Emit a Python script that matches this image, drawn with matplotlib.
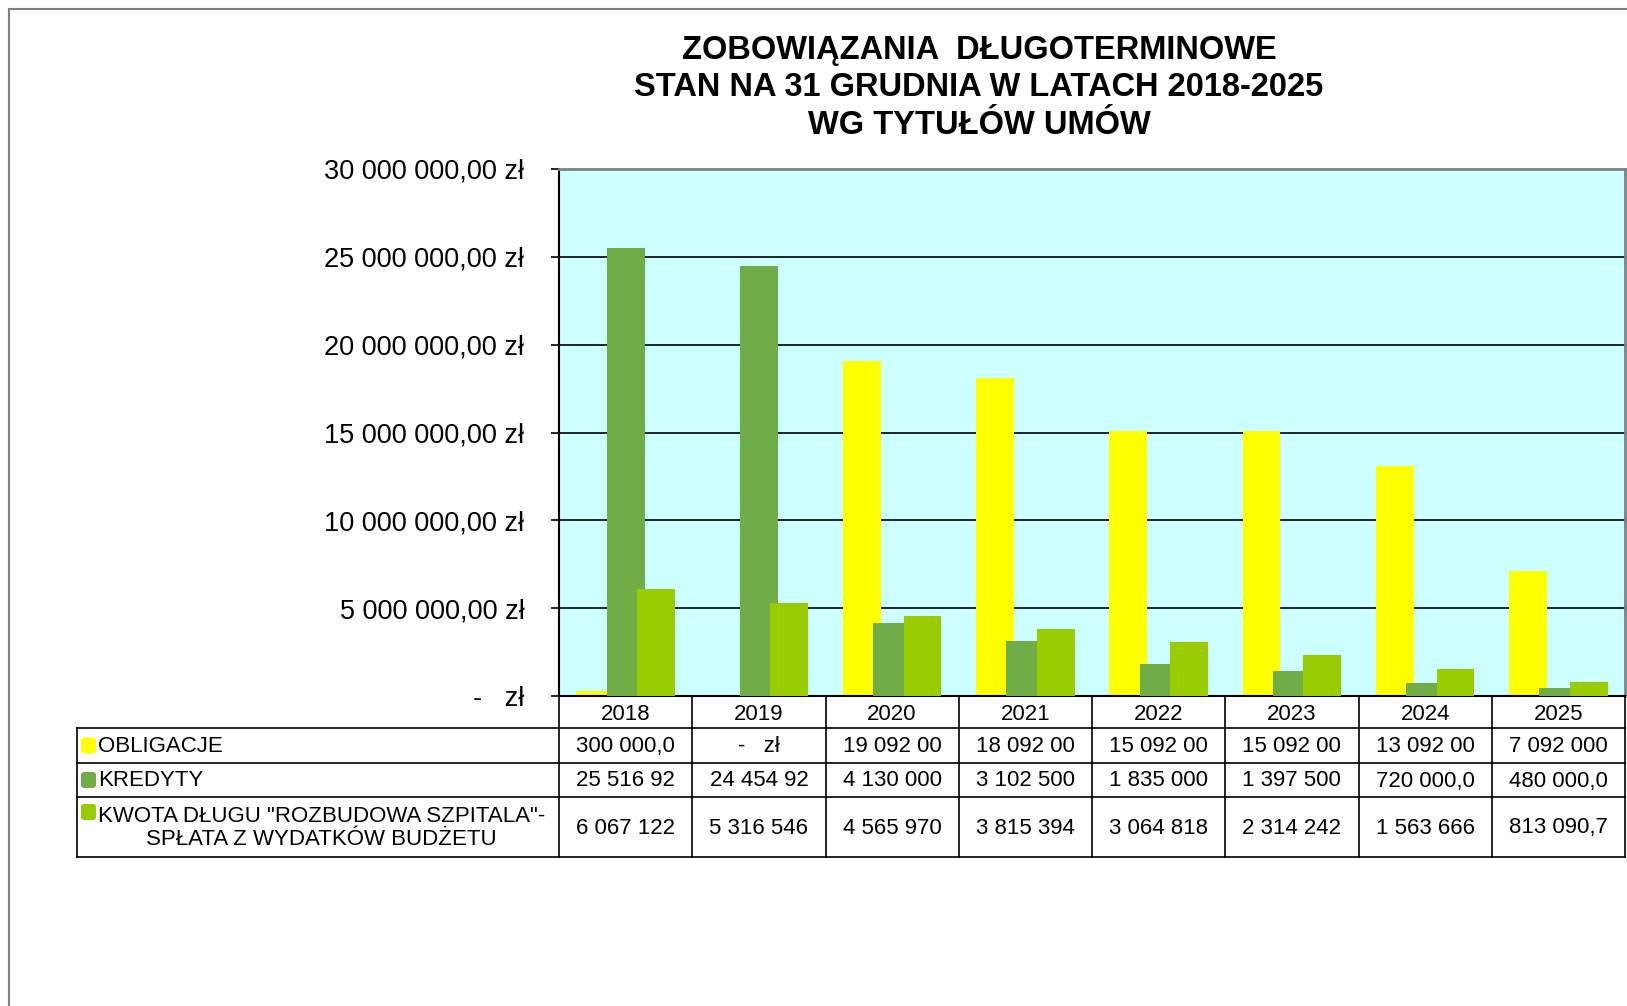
import numpy as np
import matplotlib
matplotlib.use('Agg')
import matplotlib.pyplot as plt
import matplotlib.transforms as mtransforms
from matplotlib.lines import Line2D
from matplotlib.patches import FancyBboxPatch

plt.rcParams['font.family'] = ['Liberation Sans', 'DejaVu Sans']

years = ['2018', '2019', '2020', '2021', '2022', '2023', '2024', '2025']
obligacje = [300000, 0, 19092000, 18092000, 15092000, 15092000, 13092000, 7092000]
kredyty = [25516920, 24454920, 4130000, 3102500, 1835000, 1397500, 720000, 480000]
szpital = [6067122, 5316546, 4565970, 3815394, 3064818, 2314242, 1563666, 813090.7]
series_names = ['OBLIGACJE', 'KREDYTY',
                'KWOTA DŁUGU "ROZBUDOWA SZPITALA"-\nSPŁATA Z WYDATKÓW BUDŻETU']
colors = ['#FFFF00', '#70AD47', '#99CC00']
y_ticks = [0, 5e6, 10e6, 15e6, 20e6, 25e6, 30e6]
title_lines = ['ZOBOWIĄZANIA  DŁUGOTERMINOWE',
               'STAN NA 31 GRUDNIA W LATACH 2018-2025',
               'WG TYTUŁÓW UMÓW']

W, H = 1627, 1006


def zl(v):
    # Excel accounting style: "25 000 000,00 zł", zero as "-   zł"
    if v == 0:
        return '-   zł'
    s = f'{v:,.2f}'.replace(',', ' ').replace('.', ',')
    return s + ' zł'


fig = plt.figure(figsize=(W / 100, H / 100), dpi=100)
# pixel coords measured from the top-left corner
px = mtransforms.Affine2D().scale(1 / 100, -1 / 100).translate(0, H / 100) + fig.dpi_scale_trans

# plot area
L, R, T, B = 559, 1625, 169, 696
ax = fig.add_axes([L / W, 1 - B / H, (R - L) / W, (B - T) / H])
ax.set_facecolor('#CCFFFF')

x = np.arange(len(years))
bw, step = 0.285, 0.228
for i, (vals, c) in enumerate(zip([obligacje, kredyty, szpital], colors)):
    ax.bar(x + (i - 1) * step, vals, width=bw, color=c, linewidth=0, zorder=2 + i)

ax.set_xlim(-0.5, len(years) - 0.5)
ax.set_ylim(0, 30e6)
ax.set_yticks(y_ticks)
ax.set_yticklabels([zl(v) for v in y_ticks], fontsize=19.5)
ax.set_xticks([])
ax.tick_params(axis='y', direction='out', length=6, width=1.2, pad=19)
ax.grid(axis='y', color='black', linewidth=1.2)
ax.set_axisbelow(True)
for s in ['left', 'bottom']:
    ax.spines[s].set_color('black')
    ax.spines[s].set_linewidth(1.5)
for s in ['top', 'right']:
    ax.spines[s].set_color('#808080')
    ax.spines[s].set_linewidth(2)

# title
for ty, line in zip([50, 88, 126], title_lines):
    fig.text(979, ty, line, transform=px, ha='center', va='center',
             fontsize=23.5, fontweight='bold')

# data table under the axis
tbl = mtransforms.blended_transform_factory(ax.transData, px)
rows = [697, 728, 763, 797, 857]
lc = dict(color='black', linewidth=1.2)

# vertical column lines
for b in np.arange(-0.5, len(years)):
    fig.add_artist(Line2D([b, b], [rows[0], rows[-1]], transform=tbl, **lc))
# horizontal lines
for ry in rows[1:]:
    fig.add_artist(Line2D([77, R], [ry, ry], transform=px, **lc))
fig.add_artist(Line2D([77, 77], [rows[1], rows[-1]], transform=px, **lc))

for xi, yr in zip(x, years):
    fig.text(xi, (rows[0] + rows[1]) / 2 + 2, yr, transform=tbl, ha='center',
             va='center', fontsize=16)

for r, (name, vals, c) in enumerate(zip(series_names, [obligacje, kredyty, szpital], colors)):
    y0, y1 = rows[r + 1], rows[r + 2]
    yc = (y0 + y1) / 2
    for xi, v in zip(x, vals):
        fig.text(xi, yc + 1, zl(v)[:9], transform=tbl, ha='center', va='center',
                 fontsize=16)
    ky = yc if r < 2 else y0 + 15
    fig.add_artist(FancyBboxPatch((81, ky - 8), 15, 16, transform=px,
                                  boxstyle='round,pad=0,rounding_size=3',
                                  facecolor=c, edgecolor='none'))
    fig.text(98, yc + 1, name, transform=px, ha='left', va='center',
             fontsize=16, multialignment='center', linespacing=1.1)

# outer chart frame
fig.add_artist(Line2D([9, W], [9, 9], transform=px, color='#808080', linewidth=1.5))
fig.add_artist(Line2D([9, 9], [9, H], transform=px, color='#808080', linewidth=1.5))

fig.savefig('out.png', dpi=100)
